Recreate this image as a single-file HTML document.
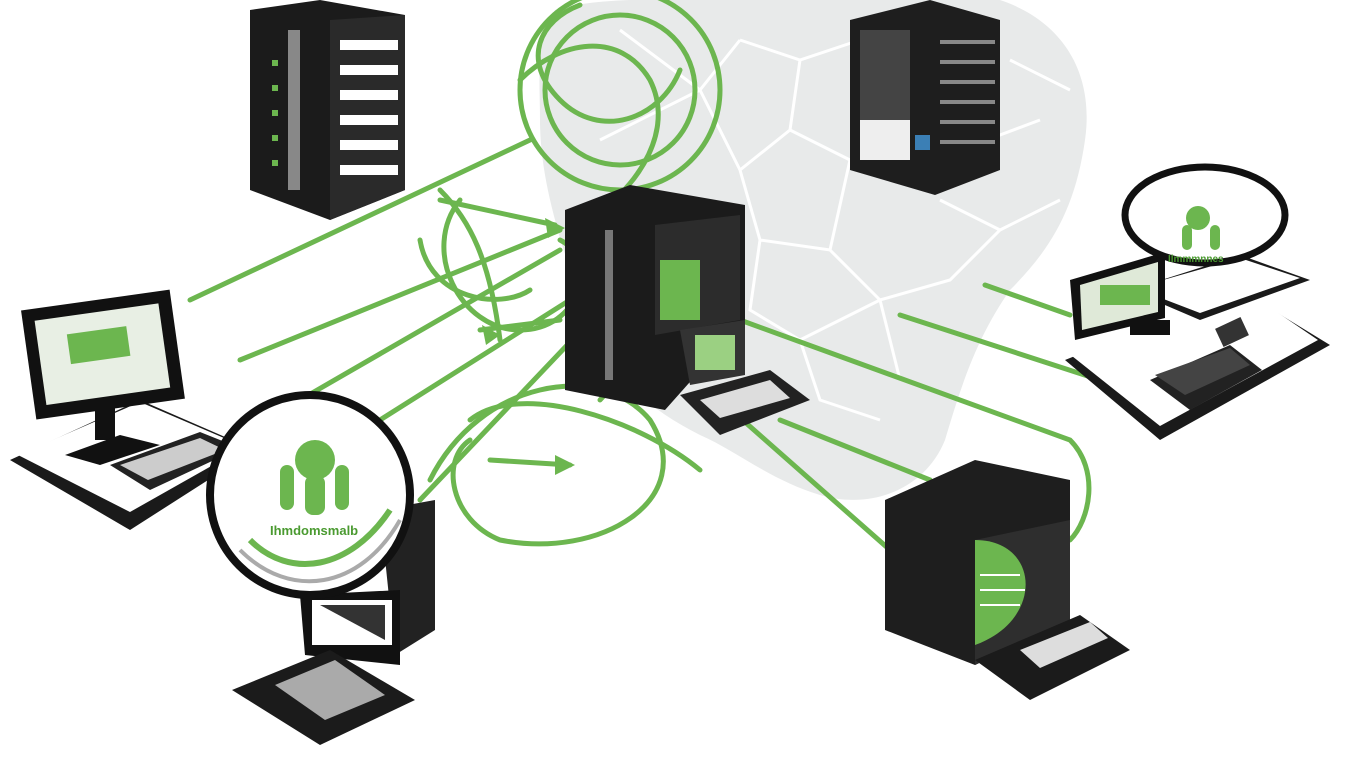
<!DOCTYPE html>
<html><head><meta charset="utf-8"><style>
html,body{margin:0;padding:0;background:#fff;}
svg{display:block;}
text{font-family:"Liberation Sans",sans-serif;}
</style></head><body>
<svg width="1353" height="762" viewBox="0 0 1353 762" xmlns="http://www.w3.org/2000/svg">
<path d="M555 10 C600 -5 700 0 760 0 L1000 0 C1060 20 1095 70 1085 140 C1075 210 1050 250 1010 290 C975 340 960 390 945 440 C925 490 870 510 820 495 C770 480 735 450 700 435 C640 405 600 365 580 300 C560 240 540 180 540 120 C540 80 535 40 555 10 Z" fill="#e8eaea"/>
<g stroke="#fff" stroke-width="3" fill="none">
<path d="M740 40 L800 60 L860 40 M800 60 L790 130 L850 160 L900 130 L960 150 M790 130 L740 170 L760 240 L830 250 L850 160 M830 250 L880 300 L950 280 L1000 230 L1060 200 M760 240 L750 310 L800 340 L880 300 M800 340 L820 400 L880 420 M960 150 L1040 120 M700 90 L740 40 M700 90 L740 170 M620 30 L700 90 M600 140 L700 90 M1010 60 L1070 90 M940 200 L1000 230 M880 300 L900 380"/>
</g>
<g stroke="#6cb64f" stroke-width="5" fill="none" stroke-linecap="round">
<path d="M190 300 L530 140"/>
<path d="M240 360 L560 230"/>
<path d="M300 400 L560 250"/>
<path d="M380 420 L570 300"/>
<path d="M420 500 L610 300"/>
<path d="M740 320 L1070 440 C1100 470 1090 520 1070 540"/>
<path d="M720 400 L890 550"/>
<path d="M780 420 L930 480"/>
<path d="M900 315 L1100 380"/>
<path d="M985 285 L1070 315"/>
<circle cx="620" cy="90" r="100"/>
<circle cx="620" cy="90" r="75"/>
<path d="M520 80 C560 40 620 30 650 80 C680 140 620 200 600 210"/>
<path d="M580 5 C540 20 520 60 560 100 C600 140 660 120 680 70"/>
<path d="M460 200 C420 250 460 330 520 330 C580 330 600 260 560 240"/>
<path d="M430 480 C480 380 600 360 650 420 C700 500 600 560 500 540 C450 520 440 460 470 440"/>
<path d="M470 420 C520 380 640 420 700 470"/>
<path d="M490 460 L570 465"/>
<path d="M440 190 C470 220 490 260 500 340"/>
<path d="M420 240 C430 300 500 310 530 290"/>
<path d="M600 200 C640 260 640 360 600 400"/>
<path d="M440 200 L555 225"/>
<path d="M480 330 L560 320"/>
</g>
<g fill="#6cb64f"><polygon points="565,228 545,218 548,238"/><polygon points="575,465 555,455 555,475"/><polygon points="500,335 482,325 486,345"/></g>
<!-- top-left tower -->
<polygon points="250,10 320,0 405,15 405,190 330,220 250,190" fill="#1b1b1b"/>
<polygon points="330,20 405,15 405,190 330,220" fill="#2a2a2a"/>
<g fill="#fff"><rect x="340" y="40" width="58" height="10"/><rect x="340" y="65" width="58" height="10"/><rect x="340" y="90" width="58" height="10"/><rect x="340" y="115" width="58" height="10"/><rect x="340" y="140" width="58" height="10"/><rect x="340" y="165" width="58" height="10"/></g>
<rect x="288" y="30" width="12" height="160" fill="#888"/>
<g fill="#6cb64f"><rect x="272" y="60" width="6" height="6"/><rect x="272" y="85" width="6" height="6"/><rect x="272" y="110" width="6" height="6"/><rect x="272" y="135" width="6" height="6"/><rect x="272" y="160" width="6" height="6"/></g>
<!-- top-right rack -->
<polygon points="850,20 930,0 1000,20 1000,170 935,195 850,170" fill="#1e1e1e"/>
<rect x="860" y="30" width="50" height="130" fill="#444"/>
<rect x="860" y="120" width="50" height="40" fill="#eee"/>
<rect x="915" y="135" width="15" height="15" fill="#3b7fb5"/>
<g fill="#888"><rect x="940" y="40" width="55" height="4"/><rect x="940" y="60" width="55" height="4"/><rect x="940" y="80" width="55" height="4"/><rect x="940" y="100" width="55" height="4"/><rect x="940" y="120" width="55" height="4"/><rect x="940" y="140" width="55" height="4"/></g>
<!-- central server -->
<polygon points="565,210 630,185 745,205 745,320 665,410 565,390" fill="#1b1b1b"/>
<polygon points="655,225 740,215 740,320 655,335" fill="#2c2c2c"/>
<rect x="660" y="260" width="40" height="60" fill="#6cb64f"/>
<rect x="605" y="230" width="8" height="150" fill="#777"/>
<polygon points="680,330 745,320 745,375 690,385" fill="#333"/>
<rect x="695" y="335" width="40" height="35" fill="#9bd082"/>
<polygon points="680,395 770,370 810,400 720,435" fill="#222"/>
<polygon points="700,400 770,380 790,398 720,418" fill="#ddd"/>
<!-- left desk -->
<polygon points="10,460 140,400 255,450 130,530" fill="#1a1a1a"/>
<polygon points="18,455 140,402 245,447 130,512" fill="#fff"/>
<rect x="28" y="300" width="150" height="110" fill="#111" transform="rotate(-8 100 355)"/>
<rect x="40" y="312" width="125" height="85" fill="#e8efe4" transform="rotate(-8 100 355)"/>
<rect x="70" y="330" width="60" height="30" fill="#6cb64f" transform="rotate(-8 100 355)"/>
<rect x="95" y="400" width="20" height="40" fill="#111"/>
<polygon points="65,455 120,435 160,445 100,465" fill="#111"/>
<polygon points="110,465 200,432 240,448 150,490" fill="#222"/>
<polygon points="120,465 200,438 225,450 148,480" fill="#ccc"/>
<!-- bottom-left computer -->
<polygon points="380,510 435,500 435,630 395,655" fill="#222"/>
<polygon points="300,595 400,590 400,665 305,655" fill="#111"/>
<rect x="312" y="600" width="80" height="45" fill="#fff"/>
<path d="M320 605 L385 605 L385 640 Z" fill="#333"/>
<polygon points="232,690 330,650 415,700 320,745" fill="#1b1b1b"/>
<polygon points="275,685 335,660 385,695 325,720" fill="#aaa"/>
<circle cx="310" cy="495" r="100" fill="#fff" stroke="#111" stroke-width="8"/>
<circle cx="315" cy="460" r="20" fill="#6cb64f"/>
<rect x="280" y="465" width="14" height="45" rx="7" fill="#6cb64f"/>
<rect x="335" y="465" width="14" height="45" rx="7" fill="#6cb64f"/>
<rect x="305" y="475" width="20" height="40" rx="8" fill="#6cb64f"/>
<path d="M250 540 C290 580 350 570 390 510" stroke="#6cb64f" stroke-width="6" fill="none"/>
<path d="M240 550 C290 600 360 590 400 520" stroke="#aaa" stroke-width="4" fill="none"/>
<text x="270" y="535" font-size="13" fill="#4a9a30" font-weight="bold">Ihmdomsmalb</text>
<!-- bottom-right box -->
<polygon points="885,500 975,460 1070,480 1070,620 975,665 885,630" fill="#1e1e1e"/>
<polygon points="975,540 1070,520 1070,620 975,665" fill="#2e2e2e"/>
<path d="M975 540 C1040 540 1045 620 975 645 Z" fill="#6cb64f"/>
<g stroke="#fff" stroke-width="2"><path d="M980 575 L1020 575 M980 590 L1025 590 M980 605 L1020 605"/></g>
<polygon points="975,660 1080,615 1130,650 1030,700" fill="#1b1b1b"/>
<polygon points="1020,650 1090,622 1108,638 1040,668" fill="#ddd"/>
<!-- right desk -->
<polygon points="1065,360 1240,290 1330,345 1160,440" fill="#1a1a1a"/>
<polygon points="1072,356 1240,287 1318,340 1160,426" fill="#fff"/>
<polygon points="1130,290 1240,255 1310,280 1200,320" fill="#1a1a1a"/>
<polygon points="1135,288 1240,258 1300,278 1200,313" fill="#fff"/>
<polygon points="1070,280 1165,252 1165,318 1075,340" fill="#111"/>
<polygon points="1080,285 1158,262 1158,312 1082,330" fill="#dfe9d8"/>
<rect x="1100" y="285" width="50" height="20" fill="#6cb64f"/>
<polygon points="1150,380 1230,345 1262,370 1190,410" fill="#222"/>
<polygon points="1155,375 1230,348 1250,365 1185,395" fill="#444"/>
<rect x="1130" y="320" width="40" height="15" fill="#111"/>
<rect x="1218" y="322" width="28" height="20" fill="#333" transform="rotate(-25 1232 332)"/>
<ellipse cx="1205" cy="215" rx="80" ry="48" fill="#fff" stroke="#111" stroke-width="7"/>
<circle cx="1198" cy="218" r="12" fill="#6cb64f"/>
<rect x="1182" y="225" width="10" height="25" rx="5" fill="#6cb64f"/>
<rect x="1210" y="225" width="10" height="25" rx="5" fill="#6cb64f"/>
<text x="1168" y="262" font-size="10" fill="#4a9a30" font-weight="bold">Ilmmmnnes</text>
</svg>
</body></html>
